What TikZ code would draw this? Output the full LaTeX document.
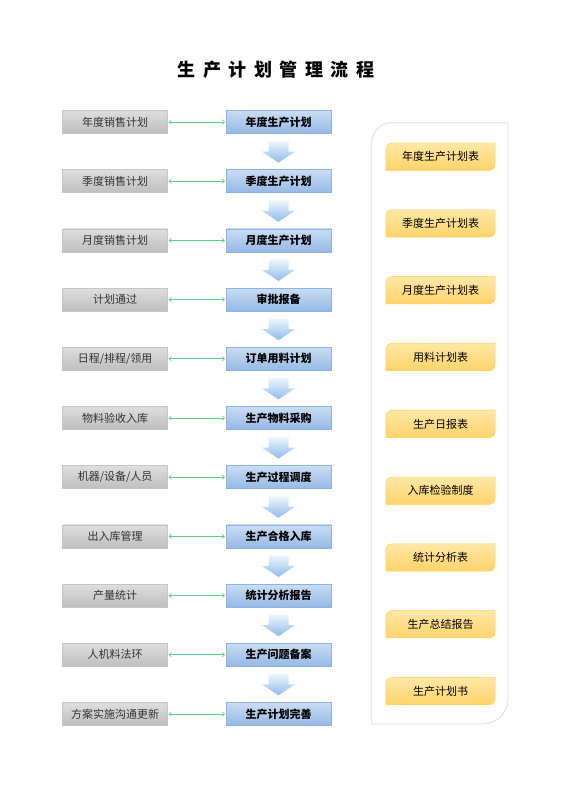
\documentclass[tikz,border=0pt]{standalone}
\usepackage{fontspec}
\setmainfont{Noto Sans CJK SC}
\usetikzlibrary{arrows.meta, positioning, calc, backgrounds}
\definecolor{sidetop}{HTML}{DEDEDE}
\definecolor{sidebottom}{HTML}{BEBEBE}
\definecolor{sideedge}{HTML}{C6C6C6}
\definecolor{sidetext}{HTML}{333333}
\definecolor{maintop}{HTML}{CADDF3}
\definecolor{mainbottom}{HTML}{95B8E5}
\definecolor{mainedge}{HTML}{8DB3E2}
\definecolor{doctop}{HTML}{FFE8A6}
\definecolor{docbottom}{HTML}{FFD36A}
\definecolor{docedge}{HTML}{FFCF4D}
\definecolor{flowtop}{HTML}{EEF5FC}
\definecolor{flowbottom}{HTML}{8FBCEB}
\definecolor{linkgreen}{HTML}{5ACF85}
\definecolor{paneledge}{HTML}{DADADA}

\begin{document}
\begin{tikzpicture}[
    node distance=35.8pt and 58pt,
    sidebox/.style={rectangle, draw=sideedge, top color=sidetop, bottom color=sidebottom, minimum width=105pt, minimum height=23pt, inner sep=0pt, text=sidetext, font=\fontsize{11}{13}\selectfont},
    mainbox/.style={rectangle, draw=mainedge, top color=maintop, bottom color=mainbottom, minimum width=105pt, minimum height=23pt, inner sep=0pt, font=\fontsize{11}{13}\selectfont\bfseries},
    docbox/.style={rectangle, minimum width=109pt, minimum height=27pt, inner sep=0pt, font=\fontsize{11}{13}\selectfont},
    link/.style={{To[length=3pt,width=5pt]}-{To[length=3pt,width=5pt]}, linkgreen, line width=.6pt, shorten <=1pt, shorten >=1pt},
    flow/.style={top color=flowtop, bottom color=flowbottom}
]
\useasboundingbox (0,0) rectangle (560pt,792pt);

\node[font=\fontsize{18}{20}\selectfont\bfseries] (title) at (276pt,722.5pt) {\spaceskip=7.5pt\relax 生 产 计 划 管 理 流 程};

\node[mainbox] (p1) at (278.5pt,670pt) {年度生产计划};
\node[mainbox, below=of p1] (p2) {季度生产计划};
\node[mainbox, below=of p2] (p3) {月度生产计划};
\node[mainbox, below=of p3] (p4) {审批报备};
\node[mainbox, below=of p4] (p5) {订单用料计划};
\node[mainbox, below=of p5] (p6) {生产物料采购};
\node[mainbox, below=of p6] (p7) {生产过程调度};
\node[mainbox, below=of p7] (p8) {生产合格入库};
\node[mainbox, below=of p8] (p9) {统计分析报告};
\node[mainbox, below=of p9] (p10) {生产问题备案};
\node[mainbox, below=of p10] (p11) {生产计划完善};

\node[sidebox, left=of p1] (s1) {年度销售计划};
\node[sidebox, left=of p2] (s2) {季度销售计划};
\node[sidebox, left=of p3] (s3) {月度销售计划};
\node[sidebox, left=of p4] (s4) {计划通过};
\node[sidebox, left=of p5] (s5) {日程/排程/领用};
\node[sidebox, left=of p6] (s6) {物料验收入库};
\node[sidebox, left=of p7] (s7) {机器/设备/人员};
\node[sidebox, left=of p8] (s8) {出入库管理};
\node[sidebox, left=of p9] (s9) {产量统计};
\node[sidebox, left=of p10] (s10) {人机料法环};
\node[sidebox, left=of p11] (s11) {方案实施沟通更新};

\node[docbox] (d1) at (440.5pt,635.3pt) {年度生产计划表};
\node[docbox, below=39.4pt of d1] (d2) {季度生产计划表};
\node[docbox, below=39.4pt of d2] (d3) {月度生产计划表};
\node[docbox, below=39.4pt of d3] (d4) {用料计划表};
\node[docbox, below=39.4pt of d4] (d5) {生产日报表};
\node[docbox, below=39.4pt of d5] (d6) {入库检验制度};
\node[docbox, below=39.4pt of d6] (d7) {统计分析表};
\node[docbox, below=39.4pt of d7] (d8) {生产总结报告};
\node[docbox, below=39.4pt of d8] (d9) {生产计划书};

% panel and document boxes behind the texts
\begin{scope}[on background layer]
\draw[paneledge, line width=.8pt] (371.7pt,649.3pt) arc[start angle=180, end angle=90, radius=20pt] -- (508pt,669.3pt) -- (508pt,93pt) arc[start angle=0, end angle=-90, radius=25pt] -- (371.7pt,68pt) -- cycle;
\foreach \i in {1,...,9}
  \draw[docedge, top color=doctop, bottom color=docbottom] ([yshift=-6pt]d\i.north west) arc[start angle=180, end angle=90, radius=6pt] -- (d\i.north east) -- ([yshift=6pt]d\i.south east) arc[start angle=0, end angle=-90, radius=6pt] -- (d\i.south west) -- cycle;
\end{scope}

\foreach \i in {1,...,11}
  \draw[link] (s\i) -- (p\i);

\foreach \i [count=\j from 2] in {1,...,10}
  \shade[flow, shift={($(p\i.south)!.5!(p\j.north)$)}] (-10pt,10.5pt) -- (10pt,10.5pt) -- (10pt,0pt) -- (16.5pt,0pt) -- (0pt,-11pt) -- (-16.5pt,0pt) -- (-10pt,0pt) -- cycle;

\end{tikzpicture}
\end{document}
